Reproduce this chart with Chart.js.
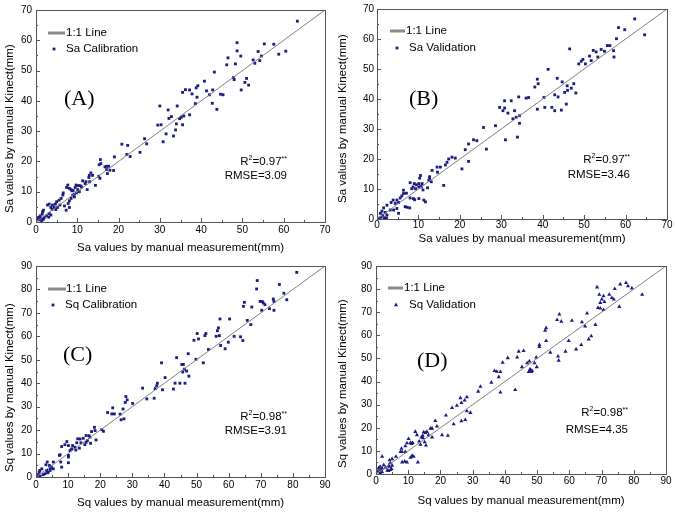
<!DOCTYPE html>
<html>
<head>
<meta charset="utf-8">
<script src="https://cdn.jsdelivr.net/npm/chart.js"></script>
<style>
	body { margin: 0; background: #fff; }
	#wrap { position: relative; width: 675px; height: 513px; overflow: hidden; background: #fff; }
	#wrap canvas { position: absolute; }
</style>
</head>
<body>
<div id="wrap">
	<canvas id="ChartA" width="337" height="256" style="left:0px;top:0px"></canvas>
	<canvas id="ChartB" width="339" height="256" style="left:336px;top:0px"></canvas>
	<canvas id="ChartC" width="337" height="257" style="left:0px;top:256px"></canvas>
	<canvas id="ChartD" width="339" height="257" style="left:336px;top:256px"></canvas>
</div>
<script>
var saCalibration = [
	[63.3,66.3],[48.7,59.2],[48.7,56.5],[49.6,54.8],[46.5,54.2],[46.2,51.9],[48.3,52.2],[55.3,58.8],[57.6,58.7],[58.8,55.4],
	[60.5,56.4],[53.8,56.3],[54.2,53.3],[54.6,54.8],[52.6,53.5],[53.0,52.4],[47.8,47.7],[48.0,47.0],[51.0,47.4],[50.6,46.1],
	[51.5,45.2],[49.7,43.6],[43.2,49.5],[40.8,46.5],[41.3,43.3],[42.0,42.0],[42.7,39.2],[42.8,43.6],[43.8,37.2],[44.7,42.2],
	[45.3,42.0],[39.2,45.0],[38.8,44.3],[39.0,41.2],[38.6,39.1],[37.8,42.3],[37.2,43.6],[36.2,43.7],[35.5,42.8],[37.2,35.4],
	[35.8,35.0],[35.5,32.1],[35.2,34.6],[34.8,34.1],[34.2,38.3],[34.0,32.4],[33.8,30.4],[33.3,28.4],[32.8,34.8],[32.2,34.2],
	[32.0,37.0],[31.5,29.1],[30.8,26.5],[30.3,32.1],[29.5,32.0],[30.0,38.3],[26.3,27.5],[26.8,25.8],[25.2,23.0],[22.2,25.3],
	[20.8,25.7],[22.0,22.3],[22.8,21.6],[19.0,21.5],[18.8,17.0],[15.3,18.9],[15.7,19.3],[15.6,20.6],[16.7,18.2],[17.1,18.4],
	[17.6,18.4],[17.1,17.3],[17.9,17.1],[17.3,16.0],[15.2,15.1],[15.5,14.4],[13.3,16.2],[12.9,15.4],[12.8,14.7],[13.7,15.4],
	[14.4,12.1],[12.1,13.3],[11.3,13.6],[11.9,12.7],[12.4,10.7],[10.7,12.0],[9.7,12.2],[9.5,11.4],[10.1,10.7],[10.5,10.0],
	[9.8,9.6],[9.3,9.2],[8.9,8.9],[9.3,8.3],[8.5,7.8],[8.1,7.0],[7.8,6.1],[8.1,4.8],[7.7,12.2],[7.4,11.4],
	[8.1,11.1],[8.5,10.7],[8.7,10.3],[6.6,9.6],[6.5,8.9],[6.1,7.8],[5.6,7.2],[5.0,6.7],[4.7,5.9],[4.0,5.6],
	[3.6,4.8],[3.2,5.9],[2.8,5.6],[5.8,5.6],[6.9,5.3],[7.3,3.9],[5.2,4.8],[4.4,4.8],[3.9,4.2],[4.8,4.1],
	[3.2,2.8],[3.6,2.3],[2.6,2.0],[3.1,1.6],[1.8,3.9],[1.6,3.4],[1.5,2.6],[1.0,2.0],[0.6,1.5],[1.2,1.2],
	[1.8,0.9],[0.8,0.7],[2.0,1.5],[0.4,0.9],[1.4,0.3],[10.2,12.0],[11.0,11.6],[9.0,10.4],[13.0,13.3]
];
var saValidation = [
	[62.2,66.7],[58.3,63.8],[59.8,63.1],[64.6,61.4],[57.8,60.1],[55.6,57.8],[56.2,57.8],[57.1,56.1],[54.1,56.5],[54.9,55.9],
	[52.2,56.2],[52.9,55.7],[51.3,54.3],[46.5,56.7],[53.3,54.0],[51.7,52.8],[49.3,52.6],[49.7,53.2],[50.3,51.7],[48.7,51.7],
	[57.2,54.0],[44.7,45.7],[46.9,43.6],[45.9,44.4],[47.5,45.1],[46.0,42.9],[45.3,42.2],[48.0,42.0],[42.9,41.4],[41.3,49.9],
	[43.5,46.9],[40.3,40.5],[38.7,46.6],[38.9,45.1],[38.1,44.0],[36.6,40.5],[36.0,40.3],[38.7,36.6],[40.5,37.2],[42.2,37.2],
	[42.9,36.1],[44.5,36.3],[45.7,38.3],[43.7,40.7],[34.2,40.7],[32.4,39.4],[30.8,39.4],[29.6,37.2],[30.8,37.0],[30.4,36.1],
	[31.6,35.3],[33.2,36.1],[33.6,33.9],[32.8,33.4],[34.4,34.4],[34.4,31.9],[33.9,27.3],[31.0,26.4],[28.6,31.1],[25.7,30.5],
	[26.4,23.3],[24.1,26.1],[23.3,26.4],[22.1,25.0],[21.3,23.1],[22.1,19.2],[20.5,16.7],[18.9,20.3],[18.1,20.6],[17.3,20.0],
	[16.9,18.9],[16.5,18.0],[15.3,17.3],[14.5,17.3],[14.6,15.6],[16.1,11.2],[13.3,16.2],[12.7,13.6],[12.5,12.9],[10.5,14.5],
	[10.3,13.6],[10.9,11.8],[10.1,11.8],[9.5,11.4],[9.0,11.8],[8.7,10.7],[9.3,10.1],[10.1,10.7],[10.5,10.7],[8.0,12.1],
	[8.4,10.1],[11.3,6.3],[11.7,5.7],[10.1,6.8],[8.8,6.8],[8.0,7.0],[7.9,3.7],[6.8,4.1],[6.4,8.5],[6.0,7.7],
	[6.4,9.6],[5.6,7.0],[4.8,6.3],[5.2,5.5],[3.9,6.3],[3.4,5.5],[4.4,5.2],[4.8,3.5],[4.0,3.0],[3.2,3.0],
	[5.2,1.9],[2.4,4.6],[1.6,3.7],[1.2,2.6],[2.0,2.2],[0.8,1.9],[1.4,1.3],[2.4,1.3],[1.0,0.6],[1.8,0.4],
	[0.6,0.3],[2.3,0.3],[7.3,3.9],[7.1,8.6],[11.1,9.7],[9.1,6.4],[10.7,10.8],[12.2,10.4],[13.1,12.4],[12.7,14.1]
];
var sqCalibration = [
	[81.2,87.3],[68.9,83.8],[68.7,80.2],[75.8,82.1],[77.2,78.4],[78.1,75.6],[73.9,75.9],[74.1,74.9],[74.1,71.1],[72.7,71.8],
	[69.8,74.9],[70.3,71.1],[70.8,74.2],[71.3,73.5],[70.5,74.8],[64.9,74.5],[64.6,72.8],[67.2,72.5],[65.8,66.8],[66.9,65.0],
	[60.3,67.4],[57.3,67.4],[56.8,63.6],[56.5,62.4],[56.1,60.0],[57.1,60.3],[59.9,57.5],[58.9,54.7],[61.7,60.0],[63.7,59.8],
	[64.4,58.2],[57.5,56.1],[52.9,61.2],[52.6,60.3],[50.2,61.2],[50.6,58.9],[49.2,58.3],[49.8,50.2],[52.1,48.7],[53.7,54.4],
	[47.4,52.6],[45.4,48.0],[45.9,48.0],[46.9,45.2],[45.7,44.8],[46.2,46.0],[43.8,50.9],[39.1,48.7],[40.2,42.4],[37.8,40.0],
	[37.6,38.9],[37.1,37.7],[36.8,33.6],[42.8,37.5],[43.3,40.0],[44.8,40.0],[46.4,40.0],[47.6,43.0],[33.2,37.9],[34.5,33.3],
	[39.4,37.2],[28.0,34.3],[28.4,32.9],[30.1,31.4],[27.8,31.8],[27.1,29.0],[26.5,24.4],[27.4,24.8],[26.2,26.8],[24.4,26.9],
	[23.6,26.9],[22.3,27.5],[23.9,29.5],[20.5,20.2],[21.0,19.5],[18.4,19.8],[18.2,21.2],[18.7,15.8],[17.3,19.4],[16.8,17.0],
	[16.0,15.5],[15.6,17.7],[14.7,16.5],[13.7,16.2],[14.0,14.6],[12.7,14.6],[13.5,12.3],[12.1,12.7],[15.6,14.8],[11.4,13.4],
	[11.1,12.0],[10.1,13.4],[9.6,15.1],[9.0,13.8],[10.6,11.3],[10.1,9.2],[10.1,8.5],[10.1,6.1],[8.0,13.0],[7.5,9.5],
	[7.3,9.2],[7.7,6.4],[8.0,4.2],[5.4,6.4],[4.2,4.9],[4.4,3.5],[3.3,2.8],[3.8,2.1],[2.8,1.4],[1.2,2.8],
	[1.0,2.1],[1.8,3.5],[0.7,1.0],[0.4,0.4],[1.3,0.4],[3.5,6.4],[3.1,5.2],[4.4,2.8],[5.4,3.5],[16.5,17.6],
	[17.0,14.4],[15.2,13.8],[12.4,11.5],[13.0,16.3],[4.8,4.2],[2.2,1.0],[3.6,1.8]
];
var sqValidation = [
	[82.6,77.6],[79.4,80.4],[78.2,81.3],[77.6,82.7],[75.8,82.1],[74.1,80.1],[69.3,77.6],[72.4,77.6],[70.6,77.0],[73.2,76.2],
	[73.8,75.6],[70.1,75.6],[70.9,74.5],[69.6,74.1],[68.9,71.9],[69.6,71.7],[70.6,71.0],[75.5,72.4],[68.6,80.8],[68.1,64.6],
	[65.5,69.5],[63.9,65.7],[64.9,63.9],[66.8,59.7],[66.0,58.3],[63.7,55.9],[62.1,54.0],[60.8,66.4],[59.8,57.6],[58.8,53.0],
	[56.7,49.1],[56.5,50.9],[56.2,66.7],[56.9,69.1],[57.5,66.0],[52.8,63.2],[52.5,62.1],[52.8,57.6],[54.1,52.6],[50.7,55.9],
	[50.7,55.0],[49.7,50.5],[49.9,46.3],[49.2,48.0],[48.2,44.2],[47.9,45.1],[48.4,44.7],[47.4,44.2],[47.8,45.3],[47.6,48.8],
	[46.9,48.0],[45.8,53.3],[44.3,53.0],[43.8,50.5],[45.3,46.3],[43.2,36.4],[40.9,50.2],[39.3,48.2],[38.6,44.2],[38.1,42.0],
	[38.6,35.3],[36.8,44.6],[37.5,44.3],[35.8,39.6],[32.4,37.8],[31.7,35.7],[28.2,33.3],[27.5,31.9],[26.2,32.9],[26.5,30.8],
	[29.3,26.5],[28.2,27.2],[27.7,23.4],[26.5,22.9],[25.1,29.6],[23.6,28.6],[24.1,21.6],[22.3,16.6],[20.5,16.9],[21.7,25.4],
	[18.4,23.0],[18.9,20.6],[17.4,19.7],[16.9,19.7],[17.4,15.9],[16.3,16.9],[15.8,18.3],[14.8,18.1],[15.3,17.8],[14.5,16.6],
	[14.1,15.9],[14.6,15.6],[13.4,14.1],[15.1,13.8],[15.5,12.4],[13.8,12.7],[12.7,16.9],[12.2,18.3],[11.4,13.5],[10.1,15.2],
	[10.7,13.5],[9.1,12.1],[11.0,13.1],[9.6,13.4],[7.9,11.0],[7.6,9.6],[8.1,9.6],[9.1,9.6],[8.9,5.4],[9.6,5.1],
	[8.1,5.1],[11.2,7.9],[11.7,7.5],[10.7,7.1],[13.0,5.1],[6.2,7.5],[5.0,6.5],[4.4,4.7],[4.8,2.3],[4.1,3.2],
	[4.5,1.8],[3.9,1.4],[3.5,1.6],[5.0,3.7],[4.0,3.6],[1.9,7.5],[1.3,3.2],[0.8,2.5],[1.9,2.5],[0.6,1.1],
	[1.3,0.4],[1.9,0.8],[2.9,2.8],[2.4,3.9],[4.2,6.0],[1.5,1.8]
];

var panelLetters = ["(A)", "(B)", "(C)", "(D)"];
var seriesNames = ["Sa Calibration", "Sa Validation", "Sq Calibration", "Sq Validation"];
var axisMax = [70, 70, 90, 90];
var r2Values = ["0.97", "0.97", "0.98", "0.98"];
var rmseValues = ["3.09", "3.46", "3.91", "4.35"];
var xTitles = ["Sa values by manual measurement(mm)", "Sa values by manual measurement(mm)", "Sq values by manual measurement(mm)", "Sq values by manual measurement(mm)"];
var yTitles = ["Sa values by manual Kinect(mm)", "Sa values by manual Kinect(mm)", "Sq values by manual Kinect(mm)", "Sq values by manual Kinect(mm)"];

var SANS = '"Liberation Sans", Arial, sans-serif';
var NAVY = '#1b1b82';

var Panels = {
	// layout of each panel (pixels inside its canvas / relative to the plot area)
	layout: [
		{ yw: 36, xh: 34, top: 9, right: 12, xpad: 2, ypad: 4, xtp: 1, ytx: 10, ytGap: 9, line: [12, 29, 23], txt1: 30, mk: [18, 39], txt2: 30, letter: [28, 89], stat: [38, 60, 46] },
		{ yw: 41, xh: 37, top: 7, right: 8, xpad: 0, ypad: 3, xtp: 10, ytx: 6.5, ytGap: 16, line: [13, 28, 22], txt1: 29, mk: [20, 39], txt2: 32, letter: [32, 90], stat: [37, 59, 44] },
		{ yw: 36, xh: 36, top: 8, right: 12, xpad: 2, ypad: 4, xtp: 3, ytx: 10, ytGap: 5, line: [12, 30, 23], txt1: 30, mk: [17, 39], txt2: 29, letter: [27, 89], stat: [38, 60, 46] },
		{ yw: 40, xh: 39, top: 6, right: 9, xpad: 1, ypad: 4, xtp: 5, ytx: 6.5, ytGap: 6, line: [12, 27, 22], txt1: 28, mk: [20, 39], txt2: 33, letter: [41, 95], stat: [38, 61, 44] }
	],

	toPoints: function(rows) {
		return rows.map(function(r) { return { x: r[0], y: r[1] }; });
	},

	drawMarker: function(ctx, style, x, y) {
		ctx.fillStyle = NAVY;
		ctx.beginPath();
		if (style == 'triangle') {
			ctx.moveTo(x, y - 2.4);
			ctx.lineTo(x + 2.1, y + 1.2);
			ctx.lineTo(x - 2.1, y + 1.2);
			ctx.closePath();
		} else {
			ctx.rect(x - 1.4, y - 1.4, 2.8, 2.8);
		}
		ctx.fill();
	},

	decorPlugin: function(i, style) {
		var L = Panels.layout[i];
		return {
			id: 'decor' + i,
			afterDraw: function(chart) {
				var ctx = chart.ctx;
				var a = chart.chartArea;
				var xs = chart.scales.x, ys = chart.scales.y;
				ctx.save();
				// frame
				ctx.strokeStyle = '#555';
				ctx.lineWidth = 1;
				ctx.strokeRect(Math.round(a.left) + 0.5, Math.round(a.top) + 0.5, Math.round(a.right - a.left), Math.round(a.bottom - a.top));
				// inward ticks, minor every 5
				ctx.beginPath();
				for (var v = 5; v < axisMax[i]; v += 5) {
					var len = (v % 10 == 0) ? 4 : 2;
					var px = Math.round(xs.getPixelForValue(v)) + 0.5;
					ctx.moveTo(px, a.bottom);
					ctx.lineTo(px, a.bottom - len);
					var py = Math.round(ys.getPixelForValue(v)) + 0.5;
					ctx.moveTo(a.left, py);
					ctx.lineTo(a.left + len, py);
				}
				ctx.stroke();
				// y axis title, sits a bit low like the original
				ctx.save();
				ctx.fillStyle = '#000';
				ctx.font = '11.5px ' + SANS;
				ctx.textBaseline = 'middle';
				ctx.textAlign = 'left';
				ctx.translate(L.ytx, a.bottom - L.ytGap);
				ctx.rotate(-Math.PI / 2);
				ctx.fillText(yTitles[i], 0, 0);
				ctx.restore();
				// legend
				ctx.strokeStyle = '#8a8a8a';
				ctx.lineWidth = 3;
				ctx.beginPath();
				ctx.moveTo(a.left + L.line[0], a.top + L.line[2]);
				ctx.lineTo(a.left + L.line[1], a.top + L.line[2]);
				ctx.stroke();
				ctx.fillStyle = '#000';
				ctx.font = '11.5px ' + SANS;
				ctx.textBaseline = 'middle';
				ctx.textAlign = 'left';
				ctx.fillText('1:1 Line', a.left + L.txt1, a.top + L.line[2]);
				ctx.fillText(seriesNames[i], a.left + L.txt2, a.top + L.mk[1]);
				Panels.drawMarker(ctx, style, a.left + L.mk[0], a.top + L.mk[1]);
				// panel letter
				ctx.fillStyle = '#000';
				ctx.font = '22px "Liberation Serif", "Times New Roman", serif';
				ctx.fillText(panelLetters[i], a.left + L.letter[0], a.top + L.letter[1]);
				// R2 and RMSE, right aligned
				var right = a.right - L.stat[0];
				var yR = a.bottom - L.stat[1];
				var big = '11.5px ' + SANS, small = '7px ' + SANS;
				ctx.font = big;
				var wR = ctx.measureText('R').width;
				var wEq = ctx.measureText('=' + r2Values[i]).width;
				ctx.font = small;
				var w2 = ctx.measureText('2').width;
				var wS = ctx.measureText('**').width;
				var x0 = right - (wR + w2 + wEq + wS);
				ctx.font = big;
				ctx.fillText('R', x0, yR);
				ctx.fillText('=' + r2Values[i], x0 + wR + w2, yR);
				ctx.font = small;
				ctx.fillText('2', x0 + wR, yR - 4);
				ctx.fillText('**', x0 + wR + w2 + wEq, yR - 3);
				ctx.font = big;
				ctx.textAlign = 'right';
				ctx.fillText('RMSE=' + rmseValues[i], right, a.bottom - L.stat[2]);
				ctx.restore();
			}
		};
	},

	build: function(i, canvasId, rows, style) {
		var L = Panels.layout[i];
		var max = axisMax[i];
		var ctx = document.getElementById(canvasId).getContext('2d');
		var tickFont = { family: SANS, size: 10 };
		var titleFont = { family: SANS, size: 11.5 };
		return new Chart(ctx, {
			type: 'scatter',
			data: {
				datasets: [
					{
						type: 'line',
						label: '1:1 Line',
						data: [{ x: 0, y: 0 }, { x: max, y: max }],
						borderColor: '#808080',
						borderWidth: 1,
						pointRadius: 0
					},
					{
						label: seriesNames[i],
						data: Panels.toPoints(rows),
						pointStyle: style,
						pointRadius: style == 'triangle' ? 2.4 : 2,
						backgroundColor: NAVY,
						borderColor: NAVY,
						borderWidth: 0
					}
				]
			},
			options: {
				responsive: false,
				animation: false,
				layout: { padding: { top: L.top, right: L.right, left: 0, bottom: 0 } },
				plugins: { legend: { display: false }, tooltip: { enabled: false } },
				scales: {
					x: {
						type: 'linear', min: 0, max: max,
						ticks: { stepSize: 10, color: '#000', font: tickFont, padding: L.xpad, maxRotation: 0 },
						grid: { display: false, drawTicks: false },
						border: { display: false },
						title: { display: true, text: xTitles[i], color: '#000', font: titleFont, padding: { top: 0, bottom: L.xtp } },
						afterFit: function(scale) { scale.height = L.xh; }
					},
					y: {
						type: 'linear', min: 0, max: max,
						ticks: { stepSize: 10, color: '#000', font: tickFont, padding: L.ypad },
						grid: { display: false, drawTicks: false },
						border: { display: false },
						// drawn by the decor plugin so it can sit off-centre
						title: { display: false, text: yTitles[i] },
						afterFit: function(scale) { scale.width = L.yw; }
					}
				}
			},
			plugins: [Panels.decorPlugin(i, style)]
		});
	},

	init: function() {
		Panels.build(0, 'ChartA', saCalibration, 'rect');
		Panels.build(1, 'ChartB', saValidation, 'rect');
		Panels.build(2, 'ChartC', sqCalibration, 'rect');
		Panels.build(3, 'ChartD', sqValidation, 'triangle');
	}
};

Panels.init();
</script>
</body>
</html>
